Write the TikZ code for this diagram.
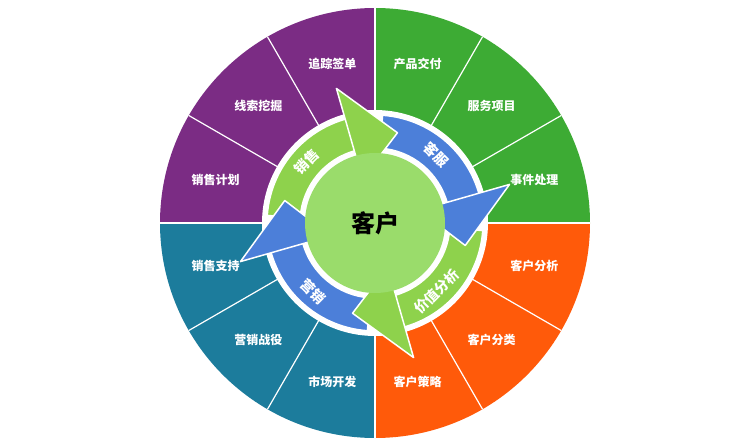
\documentclass[tikz,border=0pt]{standalone}
\usepackage{fontspec}
\setmainfont{Noto Sans CJK SC}
\usetikzlibrary{positioning,calc}
\definecolor{qpurple}{HTML}{7B2C84}
\definecolor{qgreen}{HTML}{3DAB34}
\definecolor{qorange}{HTML}{FF5A0A}
\definecolor{qteal}{HTML}{1C7C9C}
\definecolor{agreen}{HTML}{8ED24C}
\definecolor{ablue}{HTML}{4C7FD9}
\definecolor{cgreen}{HTML}{9ADC6B}
\begin{document}
\begin{tikzpicture}
	[x=1pt,y=1pt,
		item/.style={text=white,font=\fontsize{12}{14}\selectfont\bfseries},
		ring label/.style={text=white,font=\fontsize{14}{16}\selectfont\bfseries,inner sep=0pt},
		sep line/.style={white,line width=1.2pt},
		band/.style={draw=white,line width=1.5pt,line join=round}]

	\useasboundingbox (0,-447) rectangle (732,0);
	\fill[white] (0,-447) rectangle (732,0);
	\coordinate (O) at (375,-223);

	% quadrants
	\foreach \a/\c in {90/qpurple,0/qgreen,-90/qorange,180/qteal}
		\fill[\c] (O) -- ++(\a:215) arc (\a:\a+90:215) -- cycle;
	\foreach \a in {15,45,...,345}
		\draw[sep line] (O) ++(\a+15:110) -- ++(\a+15:105);
	\draw[white,line width=2pt] (O) ++(0,-215) -- ++(0,430);
	\draw[white,line width=2pt] (O) ++(-215,0) -- ++(430,0);

	% sector labels
	\foreach \a/\t [count=\i] in {75/产品交付,45/服务项目,15/事件处理,
			-15/客户分析,-45/客户分类,-75/客户策略,
			-105/市场开发,-135/营销战役,-165/销售支持,
			165/销售计划,135/线索挖掘,105/追踪签单}
		\node[item] (s\i) at ($(O)+(\a:165)$) {\t};

	% white ring
	\fill[white] (O) circle (113);

	% arrow bodies
	\foreach \t/\c in {78/agreen,-12/ablue,-102/agreen,-192/ablue}
		\fill[\c,band] (O) ++(\t+98:108) arc (\t+98:\t+27:108)
			-- ++(\t+27:-33) arc (\t+27:\t+98:75) -- cycle;
	% arrow heads
	\foreach \t/\c in {78/agreen,-12/ablue,-102/agreen,-192/ablue}
		\fill[\c,band] (O) ++(\t+28:140) -- ($(O)+(\t-2:93)$)
			-- ($(O)+(\t+28:46)$) -- cycle;

	% center
	\fill[cgreen] (O) circle (70);
	\node[font=\fontsize{24}{26}\selectfont\bfseries] (core) at (O) {客户};

	\node[ring label,rotate=45] (sell) at ($(O)+(138:92)$) {销售};
	\node[ring label,rotate=-45] (serv) at ($(O)+(48:92)$) {客服};
	\node[ring label,rotate=45] (value) at ($(O)+(-48:92)$) {价值分析};
	\node[ring label,rotate=-45] (mkt) at ($(O)+(-132:92)$) {营销};
\end{tikzpicture}
\end{document}
